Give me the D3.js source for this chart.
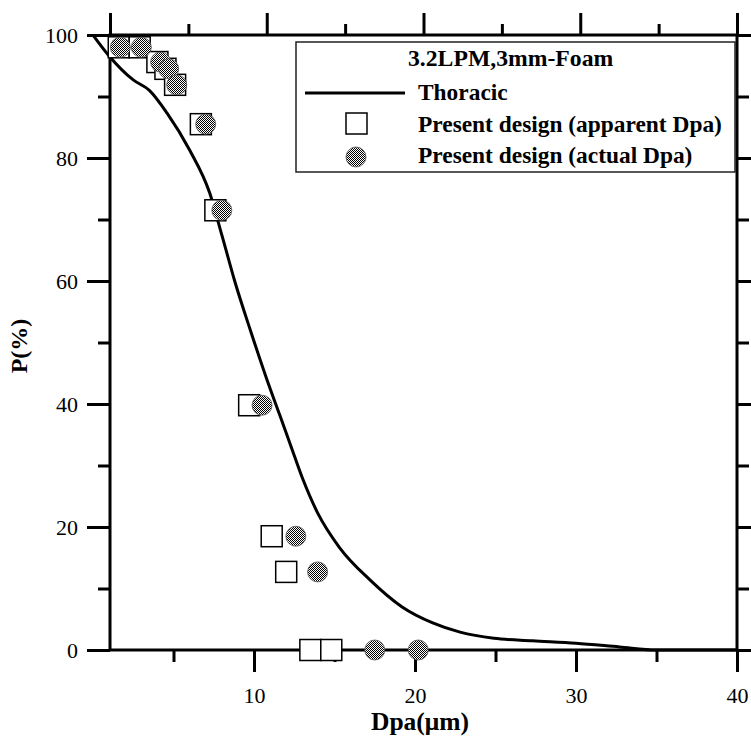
<!DOCTYPE html>
<html>
<head>
<meta charset="utf-8">
<script src="https://cdn.jsdelivr.net/npm/d3@7"></script>
<style>
  html, body { margin: 0; padding: 0; background: #fff; }
  svg { display: block; }
  text { font-family: "Liberation Serif", "Times New Roman", serif; fill: #000; }
</style>
</head>
<body>
<svg id="chart" width="751" height="737"></svg>
<script>
// ---- data ----
const curveDpa = [0, 1.0, 2.5, 3.5, 4.6, 6.0, 7.25, 8.0, 8.8, 9.8, 10.8, 11.6, 12.3, 13.0, 13.95, 15.3, 17.2, 19.2, 21.1, 22.8, 24.9, 27.3, 30, 32.7, 35, 40];
const curveP   = [100, 96.6, 92.7, 91, 87.3, 81.3, 74.3, 67.5, 60, 51.8, 44, 38.2, 33.1, 28, 22.3, 16.7, 11.4, 7.0, 4.4, 2.9, 1.9, 1.5, 1.1, 0.5, 0, 0];

const markerP     = [98, 98, 95.6, 94.5, 91.9, 85.5, 71.5, 39.8, 18.5, 12.7, 0, 0];
const apparentDpa = [1.6, 2.9, 4.0, 4.5, 5.1, 6.7, 7.6, 9.7, 11.1, 12.0, 13.5, 14.8];
const actualDpa   = [1.7, 3.0, 4.2, 4.7, 5.2, 7.0, 8.0, 10.5, 12.6, 13.95, 17.5, 20.2];

const xMajorTicks = [10, 20, 30, 40];
const xMinorTicks = [5, 15, 25, 35];
const xTopMajorTicks = [0, 10, 20, 30, 40];
const yMajorTicks = [0, 20, 40, 60, 80, 100];
const yMinorTicks = [10, 30, 50, 70, 90];

const legendTitle = "3.2LPM,3mm-Foam";
const legendLabels = ["Thoracic", "Present design (apparent Dpa)", "Present design (actual Dpa)"];
const xLabel = "Dpa(\u03bcm)";
const yLabel = "P(%)";

// ---- layout ----
const svg = d3.select("#chart");
const frame = {left: 110, right: 737, top: 35, bottom: 650};

const xB = d3.scaleLinear().domain([0, 40]).range([93, 737]);
const xT = d3.scaleLinear().domain([0, 40]).range([frame.left, frame.right]);
const y  = d3.scaleLinear().domain([0, 100]).range([frame.bottom, frame.top]);

// hatch pattern
const defs = svg.append("defs");
const pat = defs.append("pattern").attr("id", "hatch")
  .attr("patternUnits", "userSpaceOnUse").attr("width", 2).attr("height", 2);
pat.append("rect").attr("width", 2).attr("height", 2).attr("fill", "#fff");
pat.append("rect").attr("x", 0).attr("y", 0).attr("width", 1).attr("height", 1).attr("fill", "#000");
pat.append("rect").attr("x", 1).attr("y", 1).attr("width", 1).attr("height", 1).attr("fill", "#000");

function styleAxis(g) {
  g.select(".domain").remove();
  g.selectAll(".tick line").attr("stroke", "#000").attr("stroke-width", 3);
  g.selectAll(".tick text").attr("font-size", 22);
}

// axes
svg.append("g").attr("transform", `translate(0,${frame.bottom})`)
  .call(d3.axisBottom(xB).tickValues(xMajorTicks).tickSize(22).tickPadding(15).tickFormat(d3.format("d"))).call(styleAxis);
svg.append("g").attr("transform", `translate(0,${frame.bottom})`)
  .call(d3.axisBottom(xB).tickValues(xMinorTicks).tickSize(12).tickFormat("")).call(styleAxis);
svg.append("g").attr("transform", `translate(0,${frame.top})`)
  .call(d3.axisTop(xT).tickValues(xTopMajorTicks).tickSize(22).tickFormat("")).call(styleAxis);
svg.append("g").attr("transform", `translate(0,${frame.top})`)
  .call(d3.axisTop(xT).tickValues(xMinorTicks).tickSize(11).tickFormat("")).call(styleAxis);
svg.append("g").attr("transform", `translate(${frame.left},0)`)
  .call(d3.axisLeft(y).tickValues(yMajorTicks).tickSize(23).tickPadding(9).tickFormat(d3.format("d"))).call(styleAxis);
svg.append("g").attr("transform", `translate(${frame.left},0)`)
  .call(d3.axisLeft(y).tickValues(yMinorTicks).tickSize(12).tickFormat("")).call(styleAxis);
svg.append("g").attr("transform", `translate(${frame.right},0)`)
  .call(d3.axisRight(y).tickValues(yMajorTicks).tickSize(22).tickFormat("")).call(styleAxis);
svg.append("g").attr("transform", `translate(${frame.right},0)`)
  .call(d3.axisRight(y).tickValues(yMinorTicks).tickSize(12).tickFormat("")).call(styleAxis);

// frame
svg.append("rect")
  .attr("x", frame.left).attr("y", frame.top)
  .attr("width", frame.right - frame.left).attr("height", frame.bottom - frame.top)
  .attr("fill", "none").attr("stroke", "#000").attr("stroke-width", 3);

// curve
const curvePts = curveDpa.map((d, i) => [d, curveP[i]]);
svg.append("path").datum(curvePts)
  .attr("fill", "none").attr("stroke", "#000").attr("stroke-width", 3)
  .attr("stroke-linejoin", "round")
  .attr("d", d3.line().x(d => xB(d[0])).y(d => y(d[1])).curve(d3.curveMonotoneX));

// markers
const sq = 21, r = 10;
svg.append("g").selectAll("rect").data(apparentDpa.map((d, i) => [d, markerP[i]]))
  .join("rect")
  .attr("x", d => xB(d[0]) - sq / 2).attr("y", d => y(d[1]) - sq / 2)
  .attr("width", sq).attr("height", sq)
  .attr("fill", "#fff").attr("stroke", "#000").attr("stroke-width", 1.5);
svg.append("g").selectAll("circle").data(actualDpa.map((d, i) => [d, markerP[i]]))
  .join("circle")
  .attr("cx", d => xB(d[0])).attr("cy", d => y(d[1])).attr("r", r)
  .attr("fill", "url(#hatch)").attr("stroke", "#555").attr("stroke-width", 0.8);

// legend
const lg = svg.append("g");
lg.append("rect").attr("x", 296).attr("y", 42).attr("width", 439).attr("height", 130)
  .attr("fill", "#fff").attr("stroke", "#222").attr("stroke-width", 1.5);
lg.append("text").attr("x", 408).attr("y", 66).attr("font-size", 23.7).attr("font-weight", "bold").text(legendTitle);
lg.append("line").attr("x1", 305).attr("x2", 405).attr("y1", 93).attr("y2", 93)
  .attr("stroke", "#000").attr("stroke-width", 3);
lg.append("text").attr("x", 418).attr("y", 100).attr("font-size", 23.4).attr("font-weight", "bold").text(legendLabels[0]);
lg.append("rect").attr("x", 346).attr("y", 113).attr("width", 21).attr("height", 21)
  .attr("fill", "#fff").attr("stroke", "#000").attr("stroke-width", 1.5);
lg.append("text").attr("x", 418).attr("y", 132).attr("font-size", 23.4).attr("font-weight", "bold").text(legendLabels[1]);
lg.append("circle").attr("cx", 356).attr("cy", 157).attr("r", 10)
  .attr("fill", "url(#hatch)").attr("stroke", "#555").attr("stroke-width", 0.8);
lg.append("text").attr("x", 418).attr("y", 163).attr("font-size", 23.4).attr("font-weight", "bold").text(legendLabels[2]);

// axis titles
svg.append("text").attr("x", 420).attr("y", 730).attr("text-anchor", "middle")
  .attr("font-size", 25.5).attr("font-weight", "bold").text(xLabel);
svg.append("text").attr("transform", "translate(27,346) rotate(-90)").attr("text-anchor", "middle")
  .attr("font-size", 24).attr("font-weight", "bold").text(yLabel);
</script>
</body>
</html>
